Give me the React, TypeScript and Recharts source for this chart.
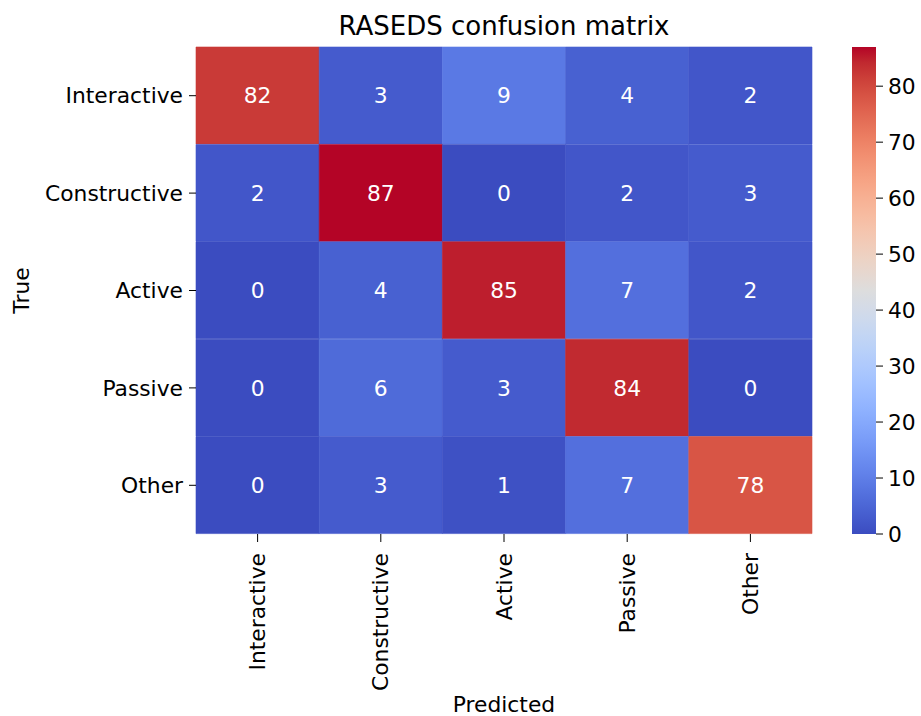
import React from 'react';
import { BarChart, Bar, XAxis, YAxis, Cell, LabelList } from 'recharts';

const trueLabels = ['Interactive', 'Constructive', 'Active', 'Passive', 'Other'];
const predictedLabels = ['Interactive', 'Constructive', 'Active', 'Passive', 'Other'];

const rowInteractive = [82, 3, 9, 4, 2];
const rowConstructive = [2, 87, 0, 2, 3];
const rowActive = [0, 4, 85, 7, 2];
const rowPassive = [0, 6, 3, 84, 0];
const rowOther = [0, 3, 1, 7, 78];
const matrix = [rowInteractive, rowConstructive, rowActive, rowPassive, rowOther];

const colorbarTicks = [0, 10, 20, 30, 40, 50, 60, 70, 80];
const vmin = 0;
const vmax = 87;

// Moreland coolwarm table
const coolwarmTable: number[][] = [
  [59, 76, 192], [68, 90, 204], [77, 104, 215], [87, 117, 225], [98, 130, 234],
  [108, 142, 241], [119, 154, 247], [130, 165, 251], [141, 176, 254], [152, 185, 255],
  [163, 194, 255], [174, 201, 253], [184, 208, 249], [194, 213, 244], [204, 217, 238],
  [213, 219, 230], [221, 221, 221], [229, 216, 209], [236, 211, 197], [241, 204, 185],
  [245, 196, 173], [247, 187, 160], [247, 177, 148], [247, 166, 135], [244, 154, 123],
  [241, 141, 111], [236, 127, 99], [229, 112, 88], [222, 96, 77], [213, 80, 66],
  [203, 62, 56], [192, 40, 47], [180, 4, 38],
];

function coolwarm(t: number): string {
  const tt = Math.max(0, Math.min(1, t));
  const pos = tt * (coolwarmTable.length - 1);
  const i = Math.min(Math.floor(pos), coolwarmTable.length - 2);
  const f = pos - i;
  const a = coolwarmTable[i];
  const b = coolwarmTable[i + 1];
  const c = [0, 1, 2].map((k) => Math.round(a[k] + (b[k] - a[k]) * f));
  return `rgb(${c[0]},${c[1]},${c[2]})`;
}

const norm = (v: number) => (v - vmin) / (vmax - vmin);

const heatData = trueLabels.map((name, r) => {
  const row: any = { name };
  matrix[r].forEach((v, c) => {
    row[`c${c}`] = 1;
    row[`v${c}`] = v;
  });
  return row;
});

const colorbarData = [{ name: 'cb', v: vmax }];

const FONT = 'DejaVu Sans, Verdana, sans-serif';
const FS = 21.8;

const XTick = (props: any) => {
  const { x, y, payload } = props;
  const label = predictedLabels[Math.floor(payload.value)];
  return (
    <text
      x={x}
      y={y}
      transform={`rotate(-90 ${x} ${y})`}
      textAnchor="end"
      dy="0.35em"
      fontSize={FS}
      fontFamily={FONT}
      fill="#000"
    >
      {label}
    </text>
  );
};

const CellLabel = (props: any) => {
  const { x, y, width, height, value } = props;
  return (
    <text
      x={x + width / 2}
      y={y + height / 2}
      dy="0.36em"
      textAnchor="middle"
      fontSize={FS}
      fontFamily={FONT}
      fill="#fff"
    >
      {value}
    </text>
  );
};

export default function App() {
  return (
    <div
      style={{
        position: 'absolute',
        left: 0,
        top: 0,
        width: 921,
        height: 716,
        background: '#fff',
        fontFamily: FONT,
        overflow: 'hidden',
      }}
    >
      <svg width={0} height={0} style={{ position: 'absolute' }}>
        <defs>
          <linearGradient id="cbGrad" x1="0" y1="1" x2="0" y2="0">
            {coolwarmTable.map((c, i) => (
              <stop
                key={i}
                offset={`${(i / (coolwarmTable.length - 1)) * 100}%`}
                stopColor={`rgb(${c[0]},${c[1]},${c[2]})`}
              />
            ))}
          </linearGradient>
        </defs>
      </svg>

      <svg width={921} height={50} style={{ position: 'absolute', left: 0, top: 0 }}>
        <text x={504} y={35} textAnchor="middle" fontSize={26} fontFamily={FONT} fill="#000">
          RASEDS confusion matrix
        </text>
      </svg>

      <div style={{ position: 'absolute', left: 0, top: 0 }}>
        <BarChart
          width={921}
          height={716}
          data={heatData}
          layout="vertical"
          margin={{ top: 47, right: 109, bottom: 0, left: 0 }}
          barCategoryGap={0}
          barGap={0}
        >
          <XAxis
            type="number"
            domain={[0, 5]}
            ticks={[0.5, 1.5, 2.5, 3.5, 4.5]}
            height={182}
            axisLine={false}
            tickSize={8}
            tickMargin={11}
            tickLine={{ stroke: '#000' }}
            tick={<XTick />}
            interval={0}
            label={{ value: 'Predicted', position: 'insideBottom', offset: 4, fontSize: FS, fill: '#000', fontFamily: FONT }}
          />
          <YAxis
            type="category"
            dataKey="name"
            width={196}
            axisLine={false}
            tickSize={7}
            tickMargin={6}
            tickLine={{ stroke: '#000' }}
            tick={{ fontSize: FS, fill: '#000', fontFamily: FONT }}
            interval={0}
            label={{
              content: (p: any) => {
                const vb = p.viewBox || { x: 0, y: 47, width: 196, height: 487 };
                const cx = vb.x + 21;
                const cy = vb.y + vb.height / 2;
                return (
                  <text
                    x={cx}
                    y={cy}
                    transform={`rotate(-90 ${cx} ${cy})`}
                    textAnchor="middle"
                    dy="0.35em"
                    fontSize={FS}
                    fontFamily={FONT}
                    fill="#000"
                  >
                    True
                  </text>
                );
              },
            }}
          />
          {predictedLabels.map((_, c) => (
            <Bar key={c} dataKey={`c${c}`} stackId="row" isAnimationActive={false}>
              {matrix.map((row, r) => (
                <Cell key={r} fill={coolwarm(norm(row[c]))} stroke={coolwarm(norm(row[c]))} strokeWidth={0.6} />
              ))}
              <LabelList dataKey={`v${c}`} content={<CellLabel />} />
            </Bar>
          ))}
        </BarChart>
      </div>

      <div style={{ position: 'absolute', left: 852, top: 0 }}>
        <BarChart
          width={69}
          height={716}
          data={colorbarData}
          margin={{ top: 47, right: 0, bottom: 182, left: 0 }}
          barCategoryGap={0}
        >
          <XAxis dataKey="name" hide />
          <YAxis
            orientation="right"
            type="number"
            domain={[vmin, vmax]}
            ticks={colorbarTicks}
            width={45}
            axisLine={false}
            tickSize={7}
            tickMargin={5}
            tickLine={{ stroke: '#000' }}
            tick={{ fontSize: FS, fill: '#000', fontFamily: FONT, textAnchor: 'start' }}
            interval={0}
          />
          <Bar dataKey="v" fill="url(#cbGrad)" isAnimationActive={false} />
        </BarChart>
      </div>
    </div>
  );
}
